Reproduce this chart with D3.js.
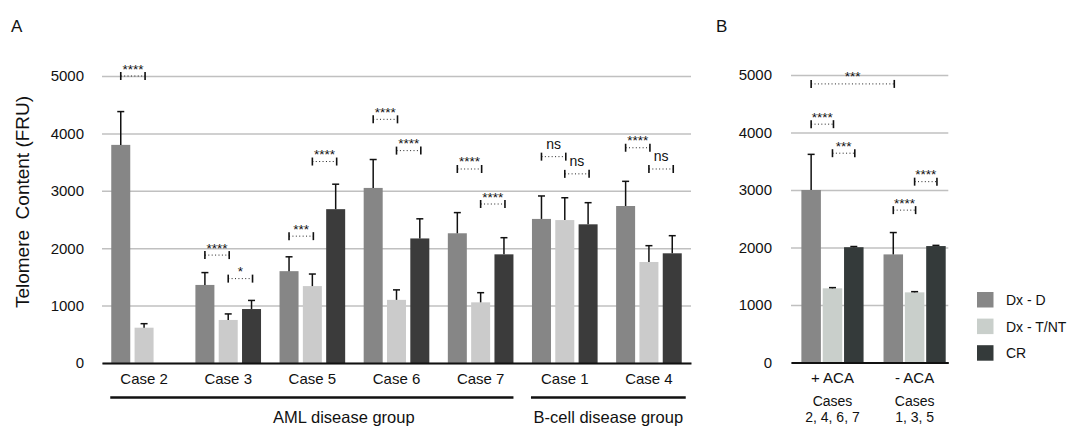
<!DOCTYPE html>
<html>
<head>
<meta charset="utf-8">
<script src="https://cdn.jsdelivr.net/npm/d3@7"></script>
<style>
  body { margin: 0; background: #fff; }
  svg, svg text { font-family: "Liberation Sans", Arial, Helvetica, sans-serif; }
</style>
</head>
<body>
<svg id="chart" width="1067" height="426"></svg>
<script>
// ---- data, panel A ----
const cases = ['Case 2', 'Case 3', 'Case 5', 'Case 6', 'Case 7', 'Case 1', 'Case 4'];
const seriesNames = ['Dx - D', 'Dx - T/NT', 'CR'];
const dxD = [3800, 1360, 1600, 3050, 2260, 2510, 2735];
const dxDErr = [580, 215, 250, 495, 360, 400, 430];
const dxT = [615, 750, 1340, 1100, 1057, 2490, 1760];
const dxTErr = [70, 105, 210, 174, 168, 389, 284];
const cr = [null, 940, 2680, 2170, 1893, 2416, 1911];
const crErr = [null, 150, 435, 342, 290, 377, 307];
const yTicks = [0, 1000, 2000, 3000, 4000, 5000];

// significance brackets: case, from series, to series, height (FRU), label
const sigA = [
    ['Case 2', 0, 1, 5000, '****'],
    ['Case 3', 0, 1, 1880, '****'],
    ['Case 3', 1, 2, 1470, '*'],
    ['Case 5', 0, 1, 2210, '***'],
    ['Case 5', 1, 2, 3510, '****'],
    ['Case 6', 0, 1, 4245, '****'],
    ['Case 6', 1, 2, 3700, '****'],
    ['Case 7', 0, 1, 3380, '****'],
    ['Case 7', 1, 2, 2770, '****'],
    ['Case 1', 0, 1, 3595, 'ns'],
    ['Case 1', 1, 2, 3295, 'ns'],
    ['Case 4', 0, 1, 3750, '****'],
    ['Case 4', 1, 2, 3380, 'ns']
];
const diseaseGroups = [
    ['AML disease group', 'Case 2', 'Case 7'],
    ['B-cell disease group', 'Case 1', 'Case 4']
];

// ---- data, panel B ----
const acaGroups = ['+ ACA', '- ACA'];
const acaCases = [['Cases', '2, 4, 6, 7'], ['Cases', '1, 3, 5']];
const acaD = [3000, 1880];
const acaDErr = [620, 380];
const acaT = [1290, 1220];
const acaTErr = [12, 12];
const acaCR = [2005, 2025];
const acaCRErr = [12, 12];
// group index/series index pairs for each end of the bracket
const sigB = [
    [[0, 0], [1, 0], 4845, '***'],
    [[0, 0], [0, 1], 4145, '****'],
    [[0, 1], [0, 2], 3640, '***'],
    [[1, 1], [1, 2], 3145, '****'],
    [[1, 0], [1, 1], 2650, '****']
];

const colorsA = ['#868686', '#cbcbcb', '#3b3b3b'];
const colorsB = ['#878787', '#c9cfcb', '#343a3a'];

const svg = d3.select('#chart');

function drawBracket(g, x1, x2, yy, label) {
    g.append('line')
        .attr('x1', x1).attr('x2', x2).attr('y1', yy).attr('y2', yy)
        .attr('stroke', '#222').attr('stroke-width', 1)
        .attr('stroke-dasharray', '1,2.4');
    [x1, x2].forEach(xx => {
        g.append('line')
            .attr('x1', xx).attr('x2', xx).attr('y1', yy - 4).attr('y2', yy + 4)
            .attr('stroke', '#111').attr('stroke-width', 1.6);
    });
    const isNs = label === 'ns';
    g.append('text')
        .attr('x', (x1 + x2) / 2)
        .attr('y', isNs ? yy - 7.5 : yy - 2.5)
        .attr('text-anchor', 'middle')
        .attr('font-size', isNs ? 14 : 13.5)
        .attr('fill', '#111')
        .text(label);
}

function drawErr(g, cx, top, errTop) {
    g.append('line')
        .attr('x1', cx).attr('x2', cx).attr('y1', top).attr('y2', errTop)
        .attr('stroke', '#111').attr('stroke-width', 1.5);
    g.append('line')
        .attr('x1', cx - 3.5).attr('x2', cx + 3.5).attr('y1', errTop).attr('y2', errTop)
        .attr('stroke', '#111').attr('stroke-width', 1.5);
}

function styleAxis(g) {
    g.attr('font-family', null).attr('font-size', null);
    g.selectAll('text').attr('font-size', 15).attr('fill', '#111');
}

// ================= panel A =================
const yA = d3.scaleLinear().domain([0, 5000]).range([363, 76]);
const xA = d3.scaleBand().domain(cases).range([102, 691]).paddingInner(0.22).paddingOuter(0.11);
const xA1 = d3.scaleBand().domain([0, 1, 2]).range([0, xA.bandwidth()]).paddingInner(0.185);

const gridA = svg.append('g')
    .attr('transform', 'translate(102,0)')
    .call(d3.axisLeft(yA).tickValues(yTicks).tickFormat(d3.format('d')).tickSize(-589).tickPadding(18));
gridA.select('.domain').remove();
gridA.selectAll('line').attr('stroke', '#c0c0c0').attr('stroke-width', 1.5);
styleAxis(gridA);

const rowsA = cases.map((c, i) => ({
    c: c,
    vals: [[dxD[i], dxDErr[i]], [dxT[i], dxTErr[i]], [cr[i], crErr[i]]]
}));

const barsA = svg.append('g');
rowsA.forEach(r => {
    r.vals.forEach((v, s) => {
        if (v[0] == null) return;
        barsA.append('rect')
            .attr('x', xA(r.c) + xA1(s))
            .attr('y', yA(v[0]))
            .attr('width', xA1.bandwidth())
            .attr('height', yA(0) - yA(v[0]))
            .attr('fill', colorsA[s]);
    });
});
rowsA.forEach(r => {
    r.vals.forEach((v, s) => {
        if (v[0] == null) return;
        drawErr(barsA, xA(r.c) + xA1(s) + xA1.bandwidth() / 2, yA(v[0]), yA(v[0] + v[1]));
    });
});

const axA = svg.append('g')
    .attr('transform', 'translate(0,363)')
    .call(d3.axisBottom(xA).tickSize(0).tickSizeOuter(0).tickPadding(10.5));
axA.select('.domain').attr('stroke', '#111').attr('stroke-width', 1.8);
styleAxis(axA);

const sigGA = svg.append('g');
sigA.forEach(d => {
    const x1 = xA(d[0]) + xA1(d[1]) + xA1.bandwidth() / 2;
    const x2 = xA(d[0]) + xA1(d[2]) + xA1.bandwidth() / 2 + 1;
    drawBracket(sigGA, x1, x2, yA(d[3]), d[4]);
});

diseaseGroups.forEach((d, i) => {
    const x1 = xA(d[1]) - 1;
    const x2 = xA(d[2]) + xA.bandwidth() + (i === 1 ? 4 : 0);
    svg.append('line')
        .attr('x1', x1).attr('x2', x2).attr('y1', 397.5).attr('y2', 397.5)
        .attr('stroke', '#111').attr('stroke-width', 2.6);
    svg.append('text')
        .attr('x', (x1 + x2) / 2 + (i === 0 ? 32 : 0))
        .attr('y', 422.5)
        .attr('text-anchor', 'middle')
        .attr('font-size', 16.5)
        .attr('fill', '#111')
        .text(d[0]);
});

svg.append('text')
    .attr('transform', 'translate(29,202) rotate(-90)')
    .attr('text-anchor', 'middle')
    .attr('font-size', 19)
    .attr('fill', '#111')
    .style('white-space', 'pre')
    .text('Telomere  Content (FRU)');

svg.append('text').attr('x', 11).attr('y', 31.5).attr('font-size', 17).attr('fill', '#111').text('A');
svg.append('text').attr('x', 716).attr('y', 31.5).attr('font-size', 17).attr('fill', '#111').text('B');

// ================= panel B =================
const yB = d3.scaleLinear().domain([0, 5000]).range([362.5, 75]);
const xB = d3.scaleBand().domain(acaGroups).range([791, 948.3])
    .paddingInner(0.243).paddingOuter(0.079).align(0.8);
const xB1 = d3.scaleBand().domain([0, 1, 2]).range([0, xB.bandwidth()]).paddingInner(0.085);

const gridB = svg.append('g')
    .attr('transform', 'translate(791,0)')
    .call(d3.axisLeft(yB).tickValues(yTicks).tickFormat(d3.format('d')).tickSize(-157.3).tickPadding(19));
gridB.select('.domain').remove();
gridB.selectAll('line').attr('stroke', '#c0c0c0').attr('stroke-width', 1.5);
styleAxis(gridB);

const rowsB = acaGroups.map((c, i) => ({
    c: c,
    vals: [[acaD[i], acaDErr[i]], [acaT[i], acaTErr[i]], [acaCR[i], acaCRErr[i]]]
}));
const barsB = svg.append('g');
rowsB.forEach(r => {
    r.vals.forEach((v, s) => {
        barsB.append('rect')
            .attr('x', xB(r.c) + xB1(s))
            .attr('y', yB(v[0]))
            .attr('width', xB1.bandwidth())
            .attr('height', yB(0) - yB(v[0]))
            .attr('fill', colorsB[s]);
    });
});
rowsB.forEach(r => {
    r.vals.forEach((v, s) => {
        drawErr(barsB, xB(r.c) + xB1(s) + xB1.bandwidth() / 2, yB(v[0]), yB(v[0] + v[1]));
    });
});

const axB = svg.append('g')
    .attr('transform', 'translate(0,362.5)')
    .call(d3.axisBottom(xB).tickSize(0).tickSizeOuter(0).tickPadding(9.5));
axB.select('.domain').attr('stroke', '#111').attr('stroke-width', 1.8);
styleAxis(axB);

acaGroups.forEach((c, i) => {
    acaCases[i].forEach((t, k) => {
        svg.append('text')
            .attr('x', xB(c) + xB.bandwidth() / 2)
            .attr('y', 406 + k * 15.7)
            .attr('text-anchor', 'middle')
            .attr('font-size', 14)
            .attr('fill', '#111')
            .text(t);
    });
});

const sigGB = svg.append('g');
sigB.forEach(d => {
    const x1 = xB(acaGroups[d[0][0]]) + xB1(d[0][1]) + xB1.bandwidth() / 2;
    const x2 = xB(acaGroups[d[1][0]]) + xB1(d[1][1]) + xB1.bandwidth() / 2 + 1;
    drawBracket(sigGB, x1, x2, yB(d[2]), d[3]);
});

// legend
const legend = svg.append('g').attr('transform', 'translate(977,292)');
seriesNames.forEach((n, i) => {
    legend.append('rect')
        .attr('x', 0).attr('y', i * 26.6)
        .attr('width', 16.5).attr('height', 15.5)
        .attr('fill', colorsB[i]);
    legend.append('text')
        .attr('x', 29).attr('y', i * 26.6 + 13)
        .attr('font-size', 14)
        .attr('fill', '#111')
        .text(n);
});
</script>
</body>
</html>
